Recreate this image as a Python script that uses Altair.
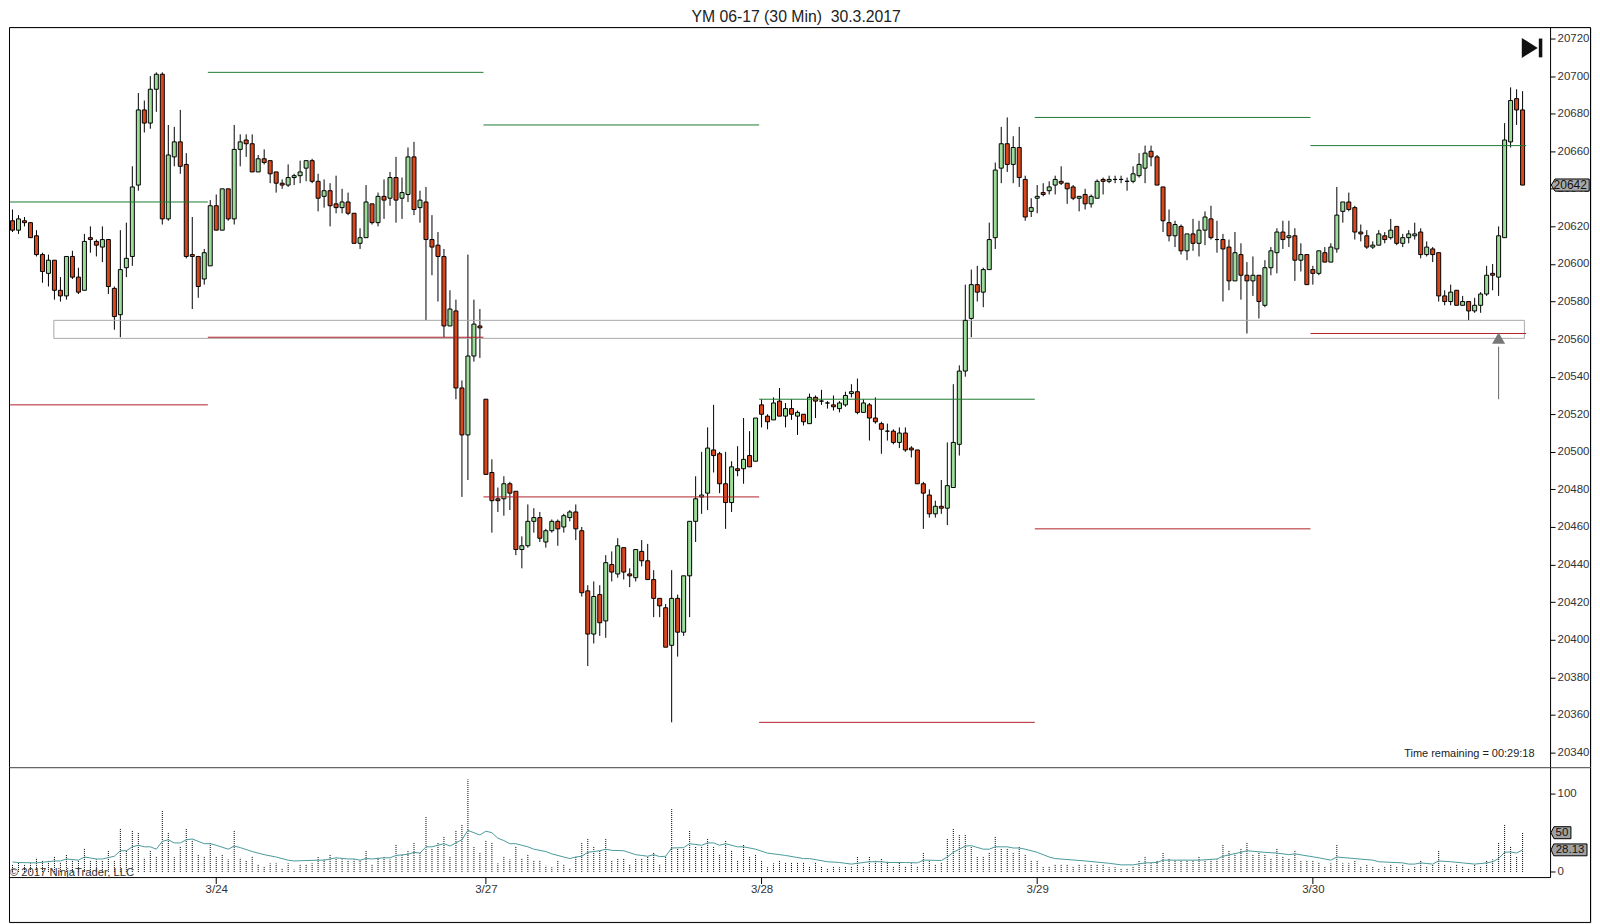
import altair as alt
import pandas as pd

BASE = 20000
opens = [
623,618,623,622,615,605,595,602,586,583,604,593,586,614,612,609,613,587,573,598,
604,642,682,675,693,701,624,657,665,653,605,604,592,599,631,618,640,624,661,666,
664,649,656,655,649,643,642,646,647,651,655,644,636,639,632,630,633,627,611,614,
632,622,636,635,646,635,637,657,630,633,613,610,604,567,575,534,509,551,567,528,
489,475,475,483,479,448,450,463,465,452,458,463,460,465,468,458,426,403,424,410,
440,435,449,435,433,447,442,432,422,417,397,422,404,434,463,476,478,501,499,483,
473,491,491,498,495,525,519,517,527,519,523,519,520,515,529,527,526,525,523,525,
531,532,521,525,518,515,511,511,505,510,502,501,483,477,467,471,470,481,504,543,
571,589,585,597,614,651,664,653,662,645,628,635,638,639,642,644,643,641,635,637,
632,635,645,644,645,645,644,644,647,651,660,657,641,622,615,620,607,616,611,618,
624,613,613,609,591,605,594,591,594,578,598,606,617,614,615,602,605,597,595,606,
601,608,628,633,630,617,615,609,610,615,614,620,611,614,615,617,605,608,606,583,
580,586,578,580,575,578,584,595,593,614,665,688,682]
highs = [
629,626,625,622,618,606,605,602,593,604,607,598,616,620,613,620,613,588,618,622,
652,691,687,700,702,702,674,673,682,659,625,604,608,634,637,640,640,674,669,669,
669,658,661,655,649,645,653,648,655,655,656,648,645,643,647,640,638,627,619,642,
632,638,645,649,657,646,662,665,639,641,626,617,608,586,581,538,605,581,576,528,
496,481,487,484,479,455,472,470,468,459,464,464,467,469,472,460,429,431,429,445,
447,454,449,438,448,453,451,437,422,419,437,424,434,463,487,500,513,525,500,500,
495,503,518,511,518,528,520,529,534,526,528,522,520,531,530,533,527,530,527,532,
536,539,528,526,529,516,515,512,513,513,503,501,484,480,474,485,505,536,546,589,
597,599,598,622,654,673,678,668,673,647,635,642,643,644,647,652,643,642,636,640,
637,645,646,647,647,647,646,652,659,663,663,658,641,629,623,621,616,624,623,628,
631,623,616,613,617,611,601,604,594,602,609,619,623,623,619,611,605,599,607,609,
611,641,633,638,631,621,618,612,618,617,624,620,616,618,622,619,612,609,606,586,
589,586,583,580,582,585,599,600,620,675,694,693,692]
lows = [
617,616,620,614,604,590,588,581,580,581,592,584,586,606,604,601,584,565,561,593,
599,639,670,672,681,621,623,652,648,603,576,582,589,599,618,618,623,621,652,657,
649,649,653,643,638,640,641,642,643,644,643,628,630,620,627,627,626,611,608,614,
621,620,624,631,622,624,633,626,622,570,594,580,561,567,528,476,485,548,550,488,
457,468,466,469,445,438,449,457,452,449,457,450,457,463,453,423,386,398,402,401,
431,433,432,428,431,439,432,412,412,396,356,391,402,412,452,467,469,489,478,459,
468,487,483,492,495,513,512,517,519,513,517,509,514,515,518,525,523,522,521,524,
529,520,521,506,515,499,506,504,502,500,497,483,459,465,465,467,461,481,498,540,
561,580,577,597,608,643,649,643,641,623,625,627,636,637,637,642,632,634,628,629,
630,635,637,643,643,643,639,643,646,643,652,642,617,612,609,605,602,607,604,610,
613,606,580,586,591,581,563,583,571,577,594,595,608,609,591,596,589,589,594,601,
601,606,622,628,613,612,608,608,610,611,613,610,609,611,613,603,604,601,580,578,
578,578,578,570,574,574,583,586,583,614,662,674,642]
closes = [
618,624,622,614,605,596,602,586,583,604,593,585,612,613,610,613,588,572,597,603,
641,682,675,693,701,624,658,665,652,604,604,588,606,631,618,640,624,661,665,664,
649,656,654,648,643,642,646,647,649,655,644,635,639,631,630,633,627,611,614,633,
622,636,634,646,634,638,657,629,634,613,609,604,567,576,534,509,551,568,566,488,
474,474,483,478,448,450,463,465,454,458,463,459,466,468,459,425,403,423,409,441,
436,450,436,434,448,442,432,422,418,396,422,404,434,463,475,477,502,498,483,473,
492,490,496,492,518,520,516,526,519,523,520,521,516,529,527,527,526,524,526,530,
532,521,526,518,516,512,511,505,510,501,501,483,478,467,471,470,482,505,543,570,
589,585,597,613,650,664,653,662,646,625,630,636,637,641,645,643,640,635,636,632,
636,644,644,645,645,645,644,648,653,659,657,642,623,615,621,607,616,611,618,625,
614,613,608,591,606,594,591,594,580,598,607,617,613,615,602,605,589,595,607,601,
609,626,633,629,617,616,609,610,616,613,618,611,614,616,616,605,609,605,583,580,
585,578,580,575,578,584,594,594,615,666,687,682,642]
volumes = [
10,12,10,11,18,14,14,20,12,22,15,15,30,15,16,15,27,15,55,28,
53,50,18,27,20,78,50,19,32,55,41,22,20,37,20,22,16,53,18,14,
20,9,7,11,11,5,11,3,9,9,11,19,16,22,18,16,14,16,14,27,
9,18,20,16,35,22,27,37,24,70,30,37,45,20,53,60,118,32,25,40,
37,11,20,16,32,17,22,14,15,8,6,14,9,4,20,37,42,32,27,42,
14,17,17,9,17,17,20,25,9,20,80,30,30,53,32,32,42,32,22,40,
27,14,35,20,22,14,6,11,14,12,12,12,12,7,12,7,4,7,6,7,
7,20,7,20,14,17,13,7,12,7,11,7,25,14,9,12,42,55,47,47,
33,20,20,25,45,30,30,25,32,22,14,14,7,7,9,9,9,7,9,9,
9,9,9,6,6,4,4,7,14,20,11,14,25,17,14,14,14,14,20,14,
16,16,35,27,25,30,37,22,25,22,17,30,20,17,27,14,14,14,12,7,
11,35,11,11,14,7,9,7,4,7,9,7,9,4,7,14,7,9,27,9,
7,9,7,4,9,7,14,16,37,60,32,20,50]
avg_bar = [1,2,5,8,9,10,12,13,15,16,18,19,20,21,22,23,24,25,26,27,28,29,30,31,33,34,35,37,38,39,41,43,45,47,48,52,53,55,57,58,59,60,61,63,64,65,67,68,69,70,71,73,74,76,77,79,80,81,82,
83,84,85,87,88,90,91,94,95,96,97,99,100,101,103,105,106,107,108,109,110,111,113,114,116,117,118,119,120,122,123,125,127,130,133,134,137,139,141,142,144,146,147,150,152,153,154,156,157,158,160,161,163,164,165,167,168,169,170,172,174,
175,180,184,186,188,190,192,193,194,199,202,203,206,207,210,212,214,215,219,221,222,225,228,229,233,234,235,236,238,239,241,243,245,247,248,249,250,251,252,253]
avg_val = [12.7,12,11.5,14,14,16.5,15,19,16.5,16.5,20,27,27,32,34,32,32,29,39,41,37,37,41,42,36,36,34,29,33,31,26,22,19,15,14,15,15,18,16.5,16.5,15,17,16.5,18,18,21,22.5,25,24,32,32,36,33,41,53,47,52,50,43,
40,36,36,32,29,26,23,17,19,20,25,27,29,27.5,27,22,21,20,22,19.5,20,30.5,31,36,34,37,37,34,36,32,32,29,24,21,17,17,13,12,10,11,13,13,12,12,11.5,15,15,14.5,19,25,33,33.5,29,29,32,32,30.5,30.5,29,25,19,
17,14,11,9,9,11.5,12,15,15,15,16.5,20,25,27,25,24,22,23,18,15,19,17,15,13,11.5,10,10,11.5,10,14,13,11.5,10,11.5,13,17,25,25.5,24,28.13]

tick_bars = [35, 80, 126, 172, 218]
tick_text = ["3/24", "3/27", "3/28", "3/29", "3/30"]
price_ticks = list(range(20340, 20721, 20))
level_from = [0.6, 33.6, 79.6, 125.6, 171.6, 217.6]
level_to = [33.6, 79.6, 125.6, 171.6, 217.6, 253.6]
level_high = [20633, 20702, 20674, 20528, 20678, 20663]
level_low = [20525, 20561, 20476, 20356, 20459, 20563]

X0, X1, XAXIS = 0.41667, 264.41667, 257.67
XL, XR = X0 + 0.5 / 6, X1 - 0.5 / 6
P_TOP, P_BOT = 20725.85, 20331.9
V_TOP, V_BOT, V_AXIS = 133.0, -64.4, -7.2

xs = alt.Scale(domain=[X0, X1], nice=False, zero=False, padding=0)
ys = alt.Scale(domain=[P_BOT, P_TOP], nice=False, zero=False)
vs = alt.Scale(domain=[V_BOT, V_TOP], nice=False, zero=False)
FONT = "Liberation Sans"

def XU(f):
    return alt.X(f, type="quantitative", scale=xs, axis=None, title=None)
def XV(f, axis=alt.Undefined):
    return alt.X(f, type="quantitative", scale=xs, axis=axis, title=None)
def Y(f, axis=alt.Undefined):
    return alt.Y(f, type="quantitative", scale=ys, axis=axis, title=None)
def V(f, axis=alt.Undefined):
    return alt.Y(f, type="quantitative", scale=vs, axis=axis, title=None)

n = len(opens)
candles = pd.DataFrame({
    "i": range(1, n + 1),
    "o": [BASE + v for v in opens], "h": [BASE + v for v in highs],
    "l": [BASE + v for v in lows], "c": [BASE + v for v in closes],
    "vol": volumes,
})
candles["dir"] = ["up" if c > o else "down" for o, c in zip(opens, closes)]
levels = pd.DataFrame({"a": level_from, "b": level_to, "hi": level_high, "lo": level_low})
avg = pd.DataFrame({"i": avg_bar, "v": avg_val})

def seg(x, x2, y, y2, xf, yf, color="black"):
    d = pd.DataFrame({"x": [x], "x2": [x2], "y": [y], "y2": [y2]})
    return alt.Chart(d).mark_rule(color=color, strokeWidth=1).encode(
        x=xf("x"), x2="x2", y=yf("y"), y2="y2")

price_axis = alt.Axis(values=price_ticks, tickCount=40, orient="right", offset=-41, domain=False, grid=False,
                      ticks=True, labels=True, labelOverlap=False, tickColor="black", tickSize=5,
                      labelColor="#333333", labelFont=FONT, labelFontSize=11.5, labelPadding=2, format="d")

wick = alt.Chart(candles).mark_rule(color="black", strokeWidth=1).encode(
    x=XU("i"), y=Y("l", axis=price_axis), y2="h")
body = alt.Chart(candles).mark_bar(size=4, stroke="black", strokeWidth=1).encode(
    x=XU("i"), y=Y("o"), y2="c",
    color=alt.Color("dir:N", legend=None,
                    scale=alt.Scale(domain=["up", "down"], range=["#9ddc9a", "#d9481c"])))
box = alt.Chart(pd.DataFrame({"a": [7.9], "b": [253.3], "t": [20570], "u": [20560.4]})).mark_rect(
    fillOpacity=0, stroke="#a9a9a9", strokeWidth=1).encode(x=XU("a"), x2="b", y=Y("t"), y2="u")
hi = alt.Chart(levels).mark_rule(color="#1f7a32", strokeWidth=1).encode(
    x=XU("a"), x2="b", y=Y("hi"))
lo = alt.Chart(levels).mark_rule(color="#b02028", strokeWidth=1).encode(
    x=XU("a"), x2="b", y=Y("lo"))

arrow_df = pd.DataFrame({"i": [249], "p": [20560.5], "a": [20556], "b": [20528]})
arrow_head = alt.Chart(arrow_df).mark_point(shape="triangle-up", size=170, filled=True,
                                            color="#777777", opacity=1).encode(x=XU("i"), y=Y("p"))
arrow_stem = alt.Chart(arrow_df).mark_rule(color="#666666", strokeWidth=1).encode(
    x=XU("i"), y=Y("a"), y2="b")

go_end_tri = alt.Chart(pd.DataFrame({"i": [254.2], "p": [20715]})).mark_point(
    shape="M-0.8,-1L0.8,0L-0.8,1Z", size=400, filled=True, color="#111111", opacity=1
).encode(x=XU("i"), y=Y("p"))
go_end_bar = alt.Chart(pd.DataFrame({"i": [256.0], "a": [20720], "b": [20710]})).mark_rule(
    color="#111111", strokeWidth=3.5).encode(x=XU("i"), y=Y("a"), y2="b")

price_tag = pd.DataFrame({"i": [260.95], "p": [20642], "t": ["20642"]})
tag_shape = "M-1,0L-0.8,-0.32L1,-0.32L1,0.32L-0.8,0.32Z"
price_box = alt.Chart(price_tag).mark_point(shape=tag_shape, size=1444, filled=True, fill="#a9a9a9",
                                            stroke="black", strokeWidth=1, opacity=1).encode(
    x=XU("i"), y=Y("p"))
price_txt = alt.Chart(price_tag).mark_text(font=FONT, fontSize=12, color="#111111").encode(
    x=XU("i"), y=Y("p"), text="t:N")
remaining = alt.Chart(pd.DataFrame({"i": [255.0], "p": [20339.3], "t": ["Time remaining = 00:29:18"]})
                      ).mark_text(font=FONT, fontSize=11, color="#222222", align="right").encode(
    x=XU("i"), y=Y("p"), text="t:N")

upper = alt.layer(
    wick, box, body, hi, lo, arrow_stem, arrow_head, go_end_tri, go_end_bar,
    seg(XL, XR, P_TOP, P_TOP, XU, Y), seg(XL, XR, P_BOT, P_BOT, XU, Y),
    seg(XL, XL, P_BOT, P_TOP, XU, Y), seg(XR, XR, P_BOT, P_TOP, XU, Y),
    seg(XAXIS, XAXIS, P_BOT, P_TOP, XU, Y),
    price_box, price_txt, remaining,
).properties(width=1584, height=741)

label_expr = "{}[indexof({}, datum.value)]".format(tick_text, tick_bars)
x_axis = alt.Axis(values=tick_bars, tickCount=40, orient="bottom", offset=-45, domain=False, grid=False,
                  ticks=True, labels=True, labelOverlap=False, tickColor="black", tickSize=6, labelColor="#333333",
                  labelFont=FONT, labelFontSize=11.5, labelPadding=0, labelExpr=label_expr)
vol_axis = alt.Axis(values=[0, 100], tickCount=40, orient="right", offset=-41, domain=False, grid=False,
                    ticks=True, labels=True, labelOverlap=False, tickColor="black", tickSize=5, labelColor="#333333",
                    labelFont=FONT, labelFontSize=11.5, labelPadding=2, format="d")

vol = alt.Chart(candles.assign(zero=0)).mark_rule(color="black", strokeWidth=1, strokeDash=[1, 1]).encode(
    x=XV("i", axis=x_axis), y=V("zero", axis=vol_axis), y2="vol")
vol_line = alt.Chart(avg).mark_line(color="#4a9a9c", strokeWidth=1).encode(x=XV("i"), y=V("v"))
tags = pd.DataFrame({"i": [259.4, 260.75], "v": [50, 28.13], "t": ["50", "28.13"]})
tag50 = alt.Chart(tags.iloc[[0]]).mark_point(shape="M-1,0L-0.7,-0.6L1,-0.6L1,0.6L-0.7,0.6Z", size=400,
                                            filled=True, fill="#a0a0a0", stroke="black", strokeWidth=1,
                                            opacity=1).encode(x=XV("i"), y=V("v"))
tag28 = alt.Chart(tags.iloc[[1]]).mark_point(shape="M-1,0L-0.85,-0.33L1,-0.33L1,0.33L-0.85,0.33Z", size=1296,
                                            filled=True, fill="#a0a0a0", stroke="black", strokeWidth=1,
                                            opacity=1).encode(x=XV("i"), y=V("v"))
tag_txt = alt.Chart(tags).mark_text(font=FONT, fontSize=11.5, color="#111111", dx=1).encode(
    x=XV("i"), y=V("v"), text="t:N")
copyright_txt = alt.Chart(pd.DataFrame({"i": [0.55], "v": [-1.5], "t": ["© 2017 NinjaTrader, LLC"]})).mark_text(
    font=FONT, fontSize=11.3, color="#333333", align="left").encode(x=XV("i"), y=V("v"), text="t:N")

lower = alt.layer(
    vol, vol_line,
    seg(XL, XAXIS, V_AXIS, V_AXIS, XV, V), seg(XL, XR, V_BOT, V_BOT, XV, V),
    seg(XL, XL, V_BOT, V_TOP, XV, V), seg(XR, XR, V_BOT, V_TOP, XV, V),
    seg(XAXIS, XAXIS, V_AXIS, V_TOP, XV, V),
    tag50, tag28, tag_txt, copyright_txt,
).properties(width=1584, height=155)

chart = alt.vconcat(upper, lower, spacing=0, bounds="flush").properties(
    padding={"left": 0, "right": 0, "top": 0, "bottom": 0},
    title=alt.TitleParams("YM 06-17 (30 Min)\u00a0\u00a030.3.2017", font=FONT, fontSize=15.8, fontWeight="normal",
                          color="#222222", anchor="middle", offset=1, dx=-4),
).configure_view(stroke=None).configure(background="white")

chart.save("out.html", embed_options={"renderer": "svg", "actions": False})
